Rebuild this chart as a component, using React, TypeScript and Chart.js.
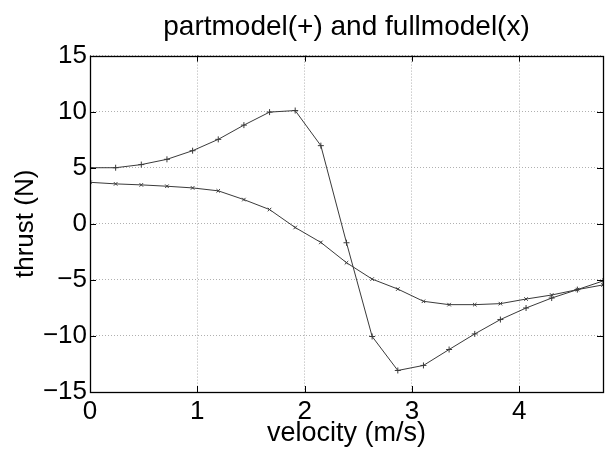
import React, { useEffect, useRef } from 'react';
import { Chart, registerables } from 'chart.js';

Chart.register(...registerables);

const velocity = [0, 0.239, 0.478, 0.717, 0.956, 1.195, 1.434, 1.673, 1.912, 2.151, 2.39, 2.629, 2.868, 3.107, 3.346, 3.585, 3.824, 4.063, 4.302, 4.541, 4.78];
const partmodel = [5.0, 5.0, 5.28, 5.75, 6.52, 7.53, 8.8, 9.96, 10.1, 6.97, -1.69, -10.05, -13.08, -12.63, -11.21, -9.82, -8.54, -7.51, -6.62, -5.87, -5.1];
const fullmodel = [3.7, 3.56, 3.47, 3.35, 3.2, 2.94, 2.16, 1.27, -0.33, -1.66, -3.47, -4.93, -5.82, -6.91, -7.21, -7.21, -7.12, -6.71, -6.35, -5.87, -5.45];
const xTickValues = [0, 1, 2, 3, 4];
const yTickValues = [-15, -10, -5, 0, 5, 10, 15];

const FONT = "'Liberation Sans', Arial, Helvetica, sans-serif";

const framePlugin = {
  id: 'frame',
  afterDraw(chart: any) {
    const { ctx, chartArea: a } = chart;
    const x = chart.scales.x;
    const y = chart.scales.y;
    ctx.save();
    ctx.strokeStyle = '#000';
    ctx.lineWidth = 1;
    ctx.beginPath();
    const L = 6;
    xTickValues.forEach((v) => {
      const px = Math.round(x.getPixelForValue(v)) + 0.5;
      ctx.moveTo(px, a.bottom);
      ctx.lineTo(px, a.bottom - L);
      ctx.moveTo(px, a.top);
      ctx.lineTo(px, a.top + L);
    });
    yTickValues.forEach((v) => {
      const py = Math.round(y.getPixelForValue(v)) + 0.5;
      ctx.moveTo(a.left, py);
      ctx.lineTo(a.left + L, py);
      ctx.moveTo(a.right, py);
      ctx.lineTo(a.right - L, py);
    });
    ctx.stroke();
    ctx.lineWidth = 1.3;
    ctx.strokeRect(Math.round(a.left) + 0.5, Math.round(a.top) + 0.5, Math.round(a.right - a.left), Math.round(a.bottom - a.top));
    ctx.restore();
  },
};

export default function App() {
  const ref = useRef<HTMLCanvasElement | null>(null);
  useEffect(() => {
    if (!ref.current) return;
    const lineColor = '#3a3a3a';
    const chart = new Chart(ref.current, {
      type: 'line',
      data: {
        datasets: [
          {
            label: 'partmodel',
            data: velocity.map((v, i) => ({ x: v, y: partmodel[i] })),
            borderColor: lineColor,
            backgroundColor: lineColor,
            borderWidth: 1,
            pointStyle: 'cross',
            pointRadius: 3,
            pointBorderWidth: 1,
            pointBorderColor: lineColor,
            tension: 0,
            fill: false,
          },
          {
            label: 'fullmodel',
            data: velocity.map((v, i) => ({ x: v, y: fullmodel[i] })),
            borderColor: lineColor,
            backgroundColor: lineColor,
            borderWidth: 1,
            pointStyle: 'crossRot',
            pointRadius: 2.5,
            pointBorderWidth: 1,
            pointBorderColor: lineColor,
            tension: 0,
            fill: false,
          },
        ],
      },
      options: {
        responsive: false,
        animation: false,
        events: [],
        layout: { padding: { left: 0, right: 2, top: 0, bottom: 0 } },
        plugins: {
          legend: { display: false },
          tooltip: { enabled: false },
          title: {
            display: true,
            text: 'partmodel(+) and fullmodel(x)',
            fullSize: false,
            color: '#000',
            font: { family: FONT, size: 28, weight: 'normal' },
            padding: { top: 10, bottom: 12 },
          },
        },
        scales: {
          x: {
            type: 'linear',
            min: 0,
            max: 4.78,
            afterFit: (s: any) => { s.height = 59; },
            afterBuildTicks: (s: any) => { s.ticks = xTickValues.map((v) => ({ value: v })); },
            ticks: {
              includeBounds: false,
              stepSize: 1,
              color: '#000',
              padding: 4,
              font: { family: FONT, size: 26 },
            },
            grid: {
              color: '#b0b0b0',
              lineWidth: 1,
              drawTicks: false,
            },
            border: { display: false, dash: [1, 2] },
            title: {
              display: true,
              text: 'velocity (m/s)',
              color: '#000',
              font: { family: FONT, size: 27 },
              padding: { top: 0, bottom: 1 },
            },
          },
          y: {
            type: 'linear',
            min: -15,
            max: 15,
            afterFit: (s: any) => { s.width = 90; },
            afterBuildTicks: (s: any) => { s.ticks = yTickValues.map((v) => ({ value: v })); },
            ticks: {
              stepSize: 5,
              color: '#000',
              padding: 3,
              font: { family: FONT, size: 26 },
              callback: (v: any) => (Number(v) < 0 ? '\u2212' + Math.abs(Number(v)) : String(v)),
            },
            grid: {
              color: '#b0b0b0',
              lineWidth: 1,
              drawTicks: false,
            },
            border: { display: false, dash: [1, 2] },
            title: {
              display: true,
              text: 'thrust (N)',
              color: '#000',
              font: { family: FONT, size: 26 },
              padding: { top: 10, bottom: 0 },
            },
          },
        },
      },
      plugins: [framePlugin],
    } as any);
    return () => chart.destroy();
  }, []);
  return (
    <div style={{ position: 'absolute', left: 0, top: 0, width: 608, height: 451, background: '#fff' }}>
      <canvas ref={ref} width={608} height={451} />
    </div>
  );
}
